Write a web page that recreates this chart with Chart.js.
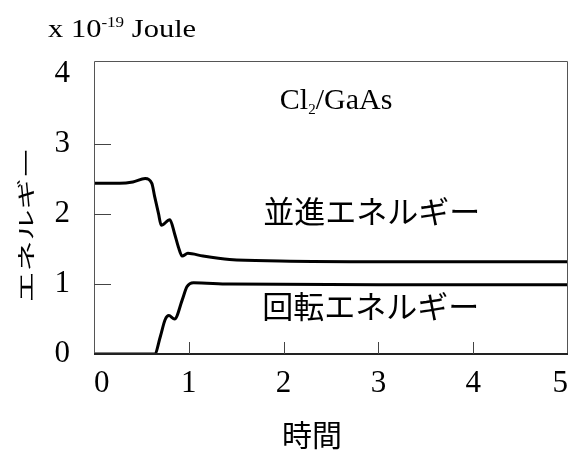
<!DOCTYPE html>
<html>
<head>
<meta charset="utf-8">
<script src="https://cdn.jsdelivr.net/npm/chart.js@4/dist/chart.umd.min.js"></script>
<style>
  html, body { margin: 0; padding: 0; background: #fff; }
  #wrap { width: 570px; height: 450px; }
</style>
</head>
<body>
<div id="wrap"><canvas id="c" width="570" height="450"></canvas></div>
<script>
// Tick values
const timeTicks = [0, 1, 2, 3, 4, 5];
const energyTicks = [0, 1, 2, 3, 4];

// Translational energy vs time
const transTime   = [0, 0.27, 0.41, 0.54, 0.61, 0.64, 0.68, 0.71, 0.80, 0.85, 0.89, 0.93, 0.99, 1.15, 1.43, 1.96, 3.0, 5.0];
const transEnergy = [2.44, 2.44, 2.46, 2.51, 2.44, 2.25, 2.01, 1.84, 1.92, 1.72, 1.53, 1.40, 1.44, 1.40, 1.35, 1.33, 1.32, 1.32];

// Rotational energy vs time
const rotTime   = [0, 0.64, 0.70, 0.75, 0.79, 0.85, 0.93, 0.98, 1.05, 1.43, 3.0, 5.0];
const rotEnergy = [0, 0, 0.25, 0.49, 0.55, 0.50, 0.77, 0.96, 1.02, 1.00, 0.99, 0.99];

const toPoints = (xs, ys) => xs.map((v, i) => ({ x: v, y: ys[i] }));

const serif = '"Liberation Serif", "Times New Roman", serif';
const cjk = '"Noto Sans CJK JP", "Noto Sans CJK SC", sans-serif';

// Box frame, inward ticks and text labels
const decorations = {
  id: 'decorations',
  afterDraw(chart) {
    const { ctx, chartArea: a, scales: { x, y } } = chart;
    ctx.save();

    // frame
    ctx.strokeStyle = '#555';
    ctx.lineWidth = 1;
    ctx.beginPath();
    ctx.moveTo(a.left + 0.5, a.bottom);
    ctx.lineTo(a.left + 0.5, a.top + 0.5);
    ctx.lineTo(a.right - 0.5, a.top + 0.5);
    ctx.lineTo(a.right - 0.5, a.bottom);
    ctx.stroke();
    ctx.strokeStyle = '#222';
    ctx.lineWidth = 2;
    ctx.beginPath();
    ctx.moveTo(a.left, a.bottom);
    ctx.lineTo(a.right, a.bottom);
    ctx.stroke();

    // inward tick marks
    ctx.strokeStyle = '#444';
    ctx.lineWidth = 1;
    ctx.beginPath();
    y.ticks.forEach(t => {
      if (t.value <= 0 || t.value >= 4) return;
      const py = Math.round(y.getPixelForValue(t.value)) + 0.5;
      ctx.moveTo(a.left, py);
      ctx.lineTo(a.left + 17, py);
    });
    x.ticks.forEach(t => {
      if (t.value <= 0 || t.value >= 5) return;
      const px = Math.round(x.getPixelForValue(t.value)) + 0.5;
      ctx.moveTo(px, a.bottom);
      ctx.lineTo(px, a.bottom - 12);
    });
    ctx.stroke();

    ctx.fillStyle = '#000';

    // unit label
    ctx.save();
    ctx.translate(48, 37);
    ctx.scale(1.22, 1);
    ctx.textAlign = 'left';
    ctx.textBaseline = 'alphabetic';
    ctx.font = '25px ' + serif;
    let cx = 0;
    ctx.fillText('x 10', cx, 0);
    cx += ctx.measureText('x 10').width;
    ctx.font = '14px ' + serif;
    ctx.fillText('-19', cx, -10);
    cx += ctx.measureText('-19').width;
    ctx.font = '25px ' + serif;
    ctx.fillText(' Joule', cx, 0);
    ctx.restore();

    // system label Cl2/GaAs
    ctx.save();
    ctx.textAlign = 'left';
    ctx.textBaseline = 'alphabetic';
    let lx = x.getPixelForValue(1.96);
    const ly = y.getPixelForValue(3.51);
    ctx.font = '30px ' + serif;
    ctx.fillText('Cl', lx, ly);
    lx += ctx.measureText('Cl').width;
    ctx.font = '15px ' + serif;
    ctx.fillText('2', lx, ly + 5);
    lx += ctx.measureText('2').width;
    ctx.font = '30px ' + serif;
    ctx.fillText('/GaAs', lx, ly);
    ctx.restore();

    // curve labels
    ctx.textAlign = 'center';
    ctx.textBaseline = 'middle';
    ctx.font = '31px ' + cjk;
    ctx.fillText('並進エネルギー', x.getPixelForValue(2.93), y.getPixelForValue(2.04));
    ctx.fillText('回転エネルギー', x.getPixelForValue(2.92), y.getPixelForValue(0.69));

    // x axis title
    ctx.font = '30px ' + cjk;
    ctx.fillText('時間', 312, 435);

    // y axis title (rotated, condensed)
    ctx.save();
    ctx.translate(26, 225);
    ctx.rotate(-Math.PI / 2);
    ctx.scale(1, 0.6);
    ctx.font = '31px ' + cjk;
    ctx.fillText('エネルギー', 0, 0);
    ctx.restore();

    ctx.restore();
  }
};

new Chart(document.getElementById('c'), {
  type: 'line',
  data: {
    datasets: [
      {
        label: '並進エネルギー',
        data: toPoints(transTime, transEnergy),
        borderColor: '#000',
        borderWidth: 3,
        pointRadius: 0,
        fill: false,
        cubicInterpolationMode: 'monotone'
      },
      {
        label: '回転エネルギー',
        data: toPoints(rotTime, rotEnergy),
        borderColor: '#000',
        borderWidth: 3,
        pointRadius: 0,
        fill: false,
        cubicInterpolationMode: 'monotone'
      }
    ]
  },
  options: {
    responsive: false,
    animation: false,
    devicePixelRatio: 1,
    layout: { padding: { top: 61, right: 2, left: 0, bottom: 0 } },
    plugins: {
      legend: { display: false },
      tooltip: { enabled: false }
    },
    scales: {
      x: {
        type: 'linear',
        min: 0,
        max: 5,
        afterBuildTicks: s => { s.ticks = timeTicks.map(v => ({ value: v })); },
        afterFit: s => { s.height = 96; s.paddingLeft = 0; s.paddingRight = 0; },
        grid: { display: false, drawTicks: false },
        border: { display: false },
        ticks: {
          color: '#000',
          font: { family: serif, size: 31 },
          padding: 11,
          align: 'inner',
          maxRotation: 0
        }
      },
      y: {
        type: 'linear',
        min: 0,
        max: 4.19,
        afterBuildTicks: s => { s.ticks = energyTicks.map(v => ({ value: v })); },
        afterFit: s => { s.width = 94; s.paddingTop = 0; s.paddingBottom = 0; },
        grid: { display: false, drawTicks: false },
        border: { display: false },
        ticks: {
          color: '#000',
          font: { family: serif, size: 31 },
          padding: 24
        }
      }
    }
  },
  plugins: [decorations]
});
</script>
</body>
</html>
